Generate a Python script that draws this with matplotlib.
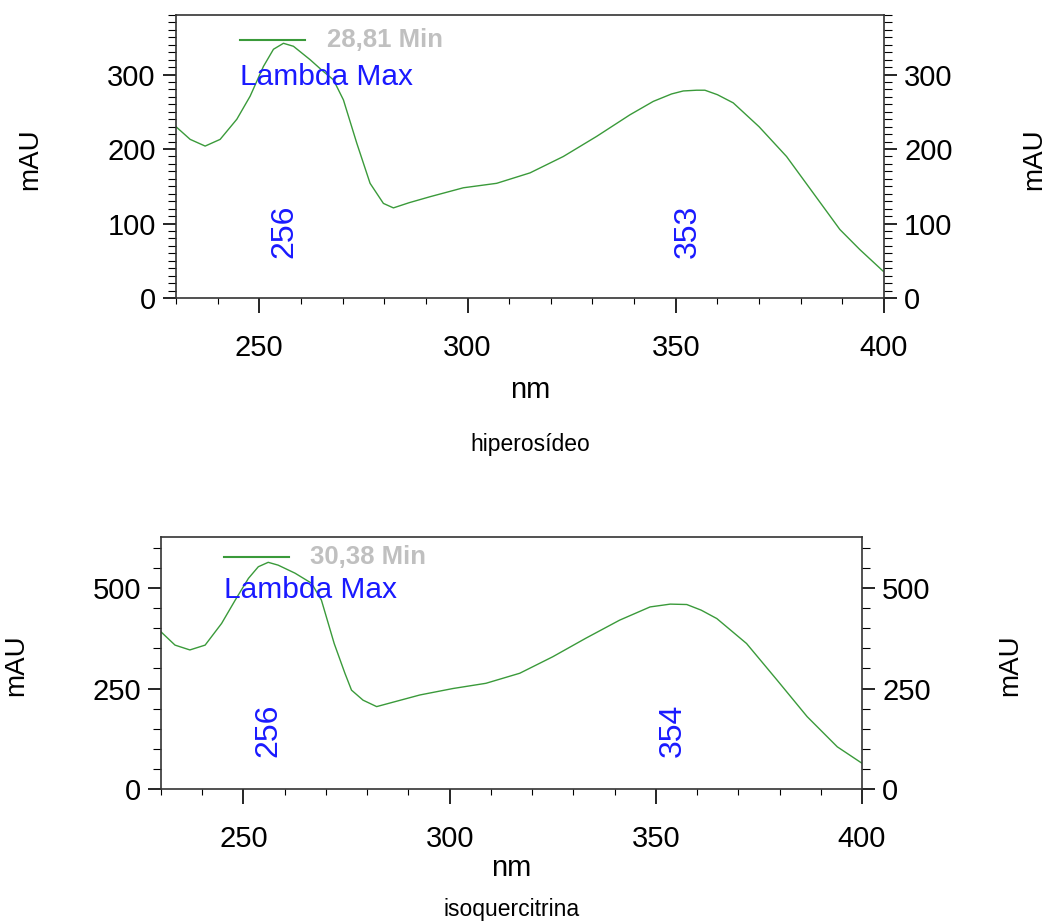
import numpy as np
import matplotlib
matplotlib.use("Agg")
import matplotlib.pyplot as plt
from matplotlib.ticker import MultipleLocator

plt.rcParams['font.family'] = ['Liberation Sans', 'DejaVu Sans']

# spectrum 1: hiperosideo (28,81 min)
nm_hip = [230, 233.4, 237, 240.6, 244.6, 247.8, 251, 253.4, 255.8, 258.2, 262.2, 265,
          267.8, 270.2, 273.4, 276.6, 279.8, 282.2, 286, 291, 299, 307, 315, 323,
          331, 339, 344.6, 349, 351.8, 355, 357, 360, 363.8, 370, 376.6, 383, 389.4,
          394.2, 399.8]
abs_hip = [230, 213, 204, 213, 240, 271, 311, 334, 342, 338, 320, 306,
           293, 266, 208, 154, 127, 121, 128, 136, 148, 154, 168, 190,
           217, 246, 264, 274, 278, 279, 279, 273, 262, 230, 190, 141, 92,
           65, 36]

# spectrum 2: isoquercitrina (30,38 min)
nm_iso = [230, 233.4, 237, 240.7, 244.7, 248, 251.2, 253.6, 256, 258.4, 262.5, 266.5,
          268.9, 272, 274.6, 276.2, 279, 282.3, 287, 292.8, 300.8, 308.8, 317, 325,
          333, 341.2, 348.6, 353.5, 357.5, 361, 364.8, 372, 379.4, 386.7, 394, 400]
abs_iso = [391, 358, 346, 358, 412, 470, 524, 553, 564, 557, 537, 512,
           470, 362, 288, 246, 221, 205, 218, 234, 250, 263, 288, 329,
           375, 420, 453, 460, 459, 445, 424, 362, 271, 180, 105, 64]

panels = [
    dict(nm=nm_hip, val=abs_hip, rt="28,81 Min", peaks=[256, 353], name="hiperosídeo",
         rect=[176/1050, 1-298/922, 708/1050, 283/922], ymax=380, major=100, minor=10,
         leg_y=0.912, lam_y=0.781, name_y=-0.519, nm_y=-0.325),
    dict(nm=nm_iso, val=abs_iso, rt="30,38 Min", peaks=[256, 354], name="isoquercitrina",
         rect=[161/1050, 1-789/922, 701/1050, 252/922], ymax=627, major=250, minor=50,
         leg_y=0.921, lam_y=0.79, name_y=-0.48, nm_y=-0.313),
]

fig = plt.figure(figsize=(10.5, 9.22), dpi=100)
green = '#3a9a3a'
blue = '#1a1aff'

for p in panels:
    ax = fig.add_axes(p["rect"])
    ax.plot(p["nm"], p["val"], color=green, lw=1.0)
    ax.set_xlim(230, 400)
    ax.set_ylim(0, p["ymax"])
    ax.xaxis.set_major_locator(MultipleLocator(50))
    ax.xaxis.set_minor_locator(MultipleLocator(10))
    ax.yaxis.set_major_locator(MultipleLocator(p["major"]))
    ax.yaxis.set_minor_locator(MultipleLocator(p["minor"]))
    ax.yaxis.set_ticks_position('both')
    ax.tick_params(axis='both', which='major', direction='out', width=1.2, labelsize=21)
    ax.tick_params(axis='x', which='major', length=11, pad=15)
    ax.tick_params(axis='y', which='major', length=9.5, pad=5)
    ax.tick_params(axis='x', which='minor', direction='out', length=4, width=0.8)
    ax.tick_params(axis='y', which='minor', direction='out', length=5.5, width=0.8)
    ax.tick_params(axis='y', labelright=True)
    for s in ax.spines.values():
        s.set_linewidth(1.2)
        s.set_color('#333333')
    ax.text(0.5, p["nm_y"], "nm", transform=ax.transAxes, fontsize=21,
            ha='center', va='center')
    ax.text(-0.206, 0.49, "mAU", transform=ax.transAxes, rotation=90, fontsize=20,
            ha='center', va='center')
    ax.text(1.212, 0.49, "mAU", transform=ax.transAxes, rotation=90, fontsize=20,
            ha='center', va='center')
    # legend-like header
    ax.plot([0.09, 0.182], [p["leg_y"]] * 2, transform=ax.transAxes, color=green, lw=1.5)
    ax.text(0.213, p["leg_y"], p["rt"], transform=ax.transAxes, color='#c0c0c0',
            fontsize=18.5, fontweight='bold', ha='left', va='center')
    ax.text(0.09, p["lam_y"], "Lambda Max", transform=ax.transAxes, color=blue,
            fontsize=21.5, ha='left', va='center')
    for pk in p["peaks"]:
        ax.text(pk, 0.234 * p["ymax"], str(pk), rotation=90, color=blue, fontsize=23,
                ha='center', va='center')
    ax.text(0.5, p["name_y"], p["name"], transform=ax.transAxes, fontsize=16.5,
            ha='center', va='center')

fig.savefig("out.png", dpi=100)
